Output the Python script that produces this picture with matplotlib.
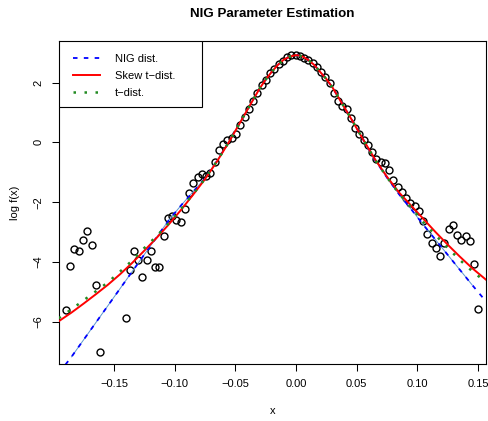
import matplotlib
matplotlib.use("Agg")
import matplotlib.pyplot as plt
from matplotlib.patches import Rectangle
from matplotlib.lines import Line2D
import numpy as np

plt.rcParams['font.family'] = ['Liberation Sans', 'DejaVu Sans']

# ---- data: log histogram density (bin midpoints) ----
obs_x = [-0.1896, -0.1861, -0.1826, -0.1791, -0.1755, -0.1720, -0.1685, -0.1650, -0.1615,
         -0.1405, -0.1370, -0.1335, -0.1300, -0.1265, -0.1230, -0.1195, -0.1160, -0.1125,
         -0.1090, -0.1055, -0.1020, -0.0985, -0.0950, -0.0915, -0.0880, -0.0845, -0.0810,
         -0.0775, -0.0740, -0.0705, -0.0670, -0.0635, -0.0600, -0.0565, -0.0530, -0.0494,
         -0.0459, -0.0424, -0.0389, -0.0354, -0.0319, -0.0284, -0.0249, -0.0214, -0.0179,
         -0.0144, -0.0109, -0.0074, -0.0039, -0.0004, 0.0031, 0.0066, 0.0101, 0.0136,
         0.0171, 0.0206, 0.0241, 0.0276, 0.0311, 0.0346, 0.0381, 0.0416, 0.0451, 0.0486,
         0.0521, 0.0557, 0.0592, 0.0627, 0.0662, 0.0697, 0.0732, 0.0767, 0.0802, 0.0837,
         0.0872, 0.0907, 0.0942, 0.0977, 0.1012, 0.1047, 0.1082, 0.1117, 0.1152, 0.1187,
         0.1222, 0.1257, 0.1292, 0.1327, 0.1362, 0.1397, 0.1432, 0.1467, 0.1502]
obs_y = [-5.62, -4.14, -3.58, -3.62, -3.26, -2.95, -3.42, -4.77, -7.01,
         -5.87, -4.28, -3.64, -3.92, -4.49, -3.92, -3.63, -4.15, -4.16,
         -3.13, -2.53, -2.45, -2.61, -2.67, -2.23, -1.69, -1.36, -1.16,
         -1.07, -1.14, -1.03, -0.65, -0.27, -0.05, 0.08, 0.15, 0.28,
         0.57, 0.85, 1.12, 1.37, 1.64, 1.91, 2.09, 2.32, 2.46,
         2.62, 2.71, 2.85, 2.93, 2.93, 2.89, 2.83, 2.75, 2.66,
         2.52, 2.36, 2.20, 1.99, 1.66, 1.37, 1.23, 1.10, 0.83, 0.48,
         0.28, 0.08, -0.08, -0.32, -0.56, -0.66, -0.70, -0.94, -1.25, -1.50,
         -1.65, -1.87, -2.03, -2.12, -2.31, -2.64, -3.06, -3.36, -3.52, -3.81,
         -3.38, -2.88, -2.75, -3.09, -3.27, -3.14, -3.31, -4.05, -5.58]

# ---- fitted log densities ----
curve_x = [-0.1955, -0.185, -0.175, -0.165, -0.155, -0.145, -0.135, -0.125, -0.115, -0.105,
           -0.095, -0.085, -0.075, -0.065, -0.055, -0.045, -0.035, -0.030, -0.025, -0.020,
           -0.015, -0.010, -0.005, 0.000, 0.005, 0.010, 0.015, 0.020, 0.025, 0.030,
           0.035, 0.045, 0.055, 0.065, 0.075, 0.085, 0.095, 0.105, 0.115, 0.125,
           0.135, 0.145, 0.1568]
nig_y = [-7.72, -7.17, -6.60, -6.03, -5.46, -4.89, -4.32, -3.75, -3.18, -2.61,
         -2.12, -1.66, -1.20, -0.61, 0.04, 0.74, 1.45, 1.80, 2.10, 2.36,
         2.59, 2.77, 2.87, 2.92, 2.88, 2.76, 2.59, 2.35, 2.12, 1.84,
         1.50, 0.82, 0.12, -0.58, -1.18, -1.74, -2.24, -2.76, -3.26, -3.76,
         -4.26, -4.76, -5.33]
skewt_y = [-5.98, -5.69, -5.39, -5.08, -4.76, -4.41, -4.03, -3.62, -3.20, -2.75,
           -2.27, -1.76, -1.23, -0.63, 0.03, 0.74, 1.45, 1.80, 2.10, 2.36,
           2.59, 2.77, 2.87, 2.92, 2.88, 2.76, 2.59, 2.35, 2.12, 1.84,
           1.50, 0.82, 0.12, -0.56, -1.15, -1.68, -2.12, -2.56, -3.00, -3.42,
           -3.82, -4.20, -4.60]
t_y = [-5.88, -5.58, -5.28, -4.98, -4.68, -4.32, -3.95, -3.53, -3.14, -2.71,
       -2.24, -1.74, -1.22, -0.62, 0.03, 0.74, 1.45, 1.80, 2.10, 2.36,
       2.59, 2.77, 2.87, 2.92, 2.88, 2.76, 2.59, 2.35, 2.12, 1.84,
       1.50, 0.82, 0.12, -0.57, -1.17, -1.72, -2.18, -2.67, -3.10, -3.53,
       -3.93, -4.30, -4.68]

x_ticks = [-0.15, -0.10, -0.05, 0.00, 0.05, 0.10, 0.15]
x_ticklabels = ["\u22120.15", "\u22120.10", "\u22120.05", "0.00", "0.05", "0.10", "0.15"]
y_ticks = [-6, -4, -2, 0, 2]
y_ticklabels = ["\u22126", "\u22124", "\u22122", "0", "2"]
legend_labels = ["NIG dist.", "Skew t\u2212dist.", "t\u2212dist."]

W, H = 489, 421
fig = plt.figure(figsize=(W / 100, H / 100), dpi=100)
L, R, T, B = 59, 485.7, 41, 363.7
AW, AH = R - L, B - T
ax = fig.add_axes([L / W, 1 - B / H, AW / W, AH / H])

ax.plot(obs_x, obs_y, linestyle='none', marker='o', markersize=5.0,
        markerfacecolor='none', markeredgecolor='black', markeredgewidth=1.0, zorder=2)

cx = np.array(curve_x)
ny = np.array(nig_y)
m = (cx >= -0.19) & (cx <= 0.146)
ax.plot(cx[m], ny[m], color='#5a96d2', lw=0.7, zorder=3)
ax.plot(curve_x, nig_y, color='#0000ff', lw=1.3, linestyle=(0, (2.5, 3.5)), zorder=3)
ax.plot(curve_x, skewt_y, color='#ff0000', lw=1.4, zorder=4)
ax.plot(curve_x, t_y, color='#228b22', lw=1.8, linestyle=(0, (1, 3.4)), zorder=5)

ax.set_xlim(-0.1953, 0.1563)
ax.set_ylim(-7.40, 3.39)
ax.set_xticks(x_ticks)
ax.set_xticklabels(x_ticklabels)
ax.set_yticks(y_ticks)
ax.set_yticklabels(y_ticklabels, rotation=90, va='center')
ax.tick_params(direction='out', length=5, width=0.75, labelsize=8, pad=6, colors='black')
for s in ax.spines.values():
    s.set_linewidth(0.8)
    s.set_color('black')

ax.text(0.5, 1 + (T - 14) / AH, "NIG Parameter Estimation", transform=ax.transAxes,
        fontsize=9.6, fontweight='bold', ha='center', va='center')
ax.set_xlabel("x", fontsize=8)
ax.xaxis.set_label_coords(0.5, -(410.7 - B) / AH)
ax.xaxis.label.set_va('center')
ax.set_ylabel("log f(x)", fontsize=8)
ax.yaxis.set_label_coords(-(L - 15) / AW, 0.5)
ax.yaxis.label.set_va('center')

# legend frame
rect = Rectangle((0, 1 - 66 / AH), 143 / AW, 66 / AH, transform=ax.transAxes,
                 facecolor='white', edgecolor='black', lw=0.8, zorder=6)
ax.add_patch(rect)
handles = [Line2D([], [], color='#0000ff', lw=1.3, linestyle=(0, (2.5, 3.5))),
           Line2D([], [], color='#ff0000', lw=1.4),
           Line2D([], [], color='#228b22', lw=1.8, linestyle=(0, (1, 3.4)))]
leg = ax.legend(handles, legend_labels, loc='upper left', frameon=False, fontsize=8,
                bbox_to_anchor=(13.7 / AW, 1 - 12.8 / AH), borderpad=0,
                borderaxespad=0, handlelength=2.45, handletextpad=1.35, labelspacing=0.62)
leg.set_zorder(7)

fig.savefig("out.png", dpi=100)
